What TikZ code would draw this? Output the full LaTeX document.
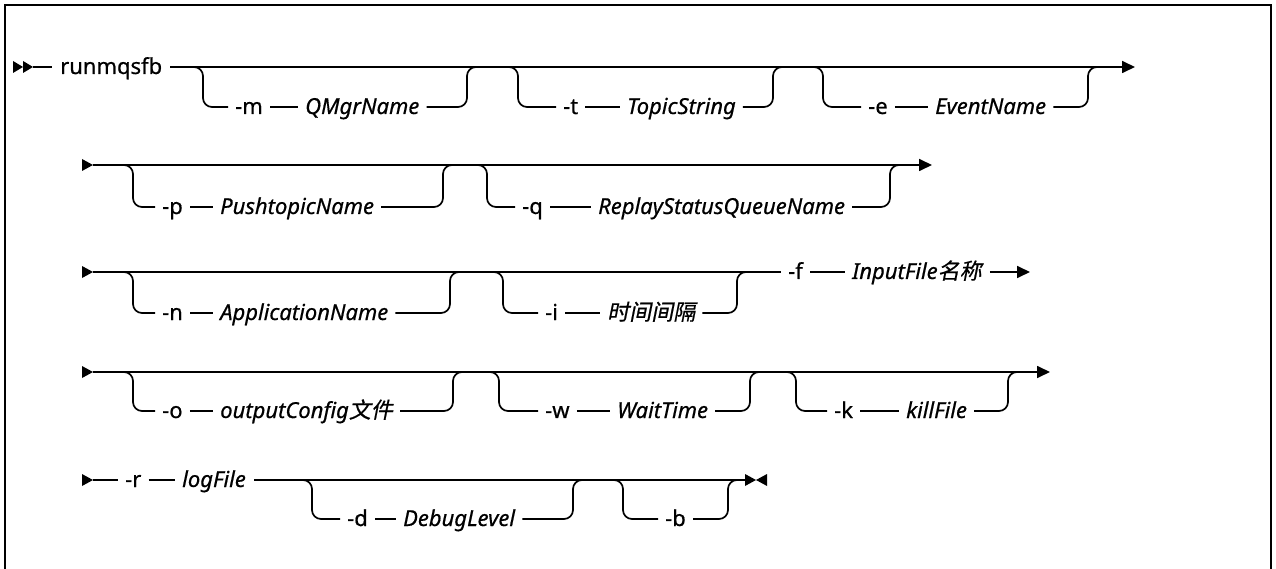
\documentclass[tikz,border=0pt]{standalone}
\usepackage{fontspec}
\setmainfont{Noto Sans}[FakeBold=0.6]
\newfontfamily\cjk[FakeSlant=0.2,FakeBold=0.6]{Noto Sans CJK SC}
\usetikzlibrary{arrows.meta}
\newcommand\fsz{\fontsize{22}{26}\selectfont}
\newcommand\zh[1]{{\cjk\upshape #1}}
\begin{document}
\begin{tikzpicture}[x=1pt,y=-1pt,
  rr/.style={line width=1.7pt},
  rc/.style={rr, rounded corners=9pt},
  kw/.style={inner sep=0pt, anchor=base west, font=\fsz, yshift=-7pt},
  pm/.style={kw, font=\fsz\itshape},
  gap/.style={rr, shorten <=7pt, shorten >=7pt},
  tipend/.style={-{Triangle[length=13pt,width=12pt]}}]
\useasboundingbox (0,0) rectangle (1276,569);
\draw[line width=2.4pt] (5,575) -- (5,5) -- (1271,5) -- (1271,575);
% ---------------- row 1
\coordinate (r1) at (0,67); \coordinate (b1) at (0,107);
\fill (13,61) -- (23,67) -- (13,73) -- cycle;
\fill (23,61) -- (33,67) -- (23,73) -- cycle;
\coordinate (s1) at (33,67);
\coordinate (e1) at (1135,67);
\node[kw] (cmd) at (60,67) {runmqsfb};
\draw[rr, shorten >=8pt] (s1) -- (cmd.west |- r1);
\draw[rr, tipend, shorten <=8pt] (cmd.east |- r1) -- (e1);
% m
\node[kw] (m) at (235,107) {-m};
\node[pm] (mv) at (305,107) {QMgrName};
\draw[rc, shorten >=7pt] (189,67) -- (203,67) -- (203,107) -- (m.west |- b1);
\draw[gap] (m.east |- b1) -- (mv.west |- b1);
\draw[rc, shorten <=7pt] (mv.east |- b1) -- (467,107) -- (467,67) -- (481,67);
% t
\node[kw] (t) at (563,107) {-t};
\node[pm] (tv) at (627,107) {TopicString};
\draw[rc, shorten >=7pt] (504,67) -- (518,67) -- (518,107) -- (t.west |- b1);
\draw[gap] (t.east |- b1) -- (tv.west |- b1);
\draw[rc, shorten <=7pt] (tv.east |- b1) -- (773,107) -- (773,67) -- (787,67);
% e
\node[kw] (e) at (868,107) {-e};
\node[pm] (ev) at (935,107) {EventName};
\draw[rc, shorten >=7pt] (809,67) -- (823,67) -- (823,107) -- (e.west |- b1);
\draw[gap] (e.east |- b1) -- (ev.west |- b1);
\draw[rc, shorten <=7pt] (ev.east |- b1) -- (1088,107) -- (1088,67) -- (1102,67);
% ---------------- row 2
\coordinate (r2) at (0,165); \coordinate (b2) at (0,207);
\fill (82,159) -- (93,165) -- (82,171) -- cycle;
\coordinate (s2) at (93,165);
\coordinate (e2) at (932,165);
\draw[rr, tipend] (s2) -- (e2);
% p
\node[kw] (p) at (162,207) {-p};
\node[pm] (pv) at (220,207) {PushtopicName};
\draw[rc, shorten >=7pt] (119,165) -- (133,165) -- (133,207) -- (p.west |- b2);
\draw[gap] (p.east |- b2) -- (pv.west |- b2);
\draw[rc, shorten <=7pt] (pv.east |- b2) -- (443,207) -- (443,165) -- (457,165);
% q
\node[kw] (q) at (522,207) {-q};
\node[pm] (qv) at (598,207) {ReplayStatusQueueName};
\draw[rc, shorten >=7pt] (473,165) -- (487,165) -- (487,207) -- (q.west |- b2);
\draw[gap] (q.east |- b2) -- (qv.west |- b2);
\draw[rc, shorten <=7pt] (qv.east |- b2) -- (890,207) -- (890,165) -- (904,165);
% ---------------- row 3
\coordinate (r3) at (0,272); \coordinate (b3) at (0,313);
\fill (82,266) -- (93,272) -- (82,278) -- cycle;
\coordinate (s3) at (93,272);
\coordinate (e3) at (1030,272);
\node[kw] (f) at (788,272) {-f};
\node[pm] (fv) at (852,272) {InputFile\zh{名称}};
\draw[rr, shorten >=7pt] (s3) -- (f.west |- r3);
\draw[gap] (f.east |- r3) -- (fv.west |- r3);
\draw[rr, tipend, shorten <=8pt] (fv.east |- r3) -- (e3);
% n
\node[kw] (n) at (162,313) {-n};
\node[pm] (nv) at (220,313) {ApplicationName};
\draw[rc, shorten >=7pt] (119,272) -- (133,272) -- (133,313) -- (n.west |- b3);
\draw[gap] (n.east |- b3) -- (nv.west |- b3);
\draw[rc, shorten <=7pt] (nv.east |- b3) -- (450,313) -- (450,272) -- (464,272);
% i
\node[kw] (i) at (545,313) {-i};
\node[pm] (iv) at (607,313) {\zh{时间间隔}};
\draw[rc, shorten >=7pt] (489,272) -- (503,272) -- (503,313) -- (i.west |- b3);
\draw[gap] (i.east |- b3) -- (iv.west |- b3);
\draw[rc, shorten <=7pt] (iv.east |- b3) -- (737,313) -- (737,272) -- (751,272);
% ---------------- row 4
\coordinate (r4) at (0,372); \coordinate (b4) at (0,411);
\fill (82,366) -- (93,372) -- (82,378) -- cycle;
\coordinate (s4) at (93,372);
\coordinate (e4) at (1050,372);
\draw[rr, tipend] (s4) -- (e4);
% o
\node[kw] (o) at (162,411) {-o};
\node[pm] (ov) at (220,411) {outputConfig\zh{文件}};
\draw[rc, shorten >=7pt] (119,372) -- (133,372) -- (133,411) -- (o.west |- b4);
\draw[gap] (o.east |- b4) -- (ov.west |- b4);
\draw[rc, shorten <=7pt] (ov.east |- b4) -- (453,411) -- (453,372) -- (467,372);
% w
\node[kw] (w) at (545,411) {-w};
\node[pm] (wv) at (617,411) {WaitTime};
\draw[rc, shorten >=7pt] (485,372) -- (499,372) -- (499,411) -- (w.west |- b4);
\draw[gap] (w.east |- b4) -- (wv.west |- b4);
\draw[rc, shorten <=7pt] (wv.east |- b4) -- (750,411) -- (750,372) -- (764,372);
% k
\node[kw] (k) at (834,411) {-k};
\node[pm] (kv) at (906,411) {killFile};
\draw[rc, shorten >=7pt] (782,372) -- (796,372) -- (796,411) -- (k.west |- b4);
\draw[gap] (k.east |- b4) -- (kv.west |- b4);
\draw[rc, shorten <=7pt] (kv.east |- b4) -- (1008,411) -- (1008,372) -- (1022,372);
% ---------------- row 5
\coordinate (r5) at (0,480); \coordinate (b5) at (0,519);
\fill (82,474) -- (93,480) -- (82,486) -- cycle;
\coordinate (s5) at (93,480);
\coordinate (e5) at (745,480);
\node[kw] (r) at (125,480) {-r};
\node[pm] (rv) at (182,480) {logFile};
\draw[rr, shorten >=7pt] (s5) -- (r.west |- r5);
\draw[gap] (r.east |- r5) -- (rv.west |- r5);
\draw[rr, shorten <=8pt] (rv.east |- r5) -- (e5);
\fill (745,474) -- (756,480) -- (745,486) -- cycle;
\fill (767,474) -- (756,480) -- (767,486) -- cycle;
% d
\node[kw] (d) at (347,519) {-d};
\node[pm] (dv) at (403,519) {DebugLevel};
\draw[rc, shorten >=7pt] (298,480) -- (312,480) -- (312,519) -- (d.west |- b5);
\draw[gap] (d.east |- b5) -- (dv.west |- b5);
\draw[rc, shorten <=7pt] (dv.east |- b5) -- (573,519) -- (573,480) -- (587,480);
% b
\node[kw] (bb) at (665,519) {-b};
\draw[rc, shorten >=7pt] (609,480) -- (623,480) -- (623,519) -- (bb.west |- b5);
\draw[rc, shorten <=7pt] (bb.east |- b5) -- (728,519) -- (728,480) -- (742,480);
\end{tikzpicture}
\end{document}
